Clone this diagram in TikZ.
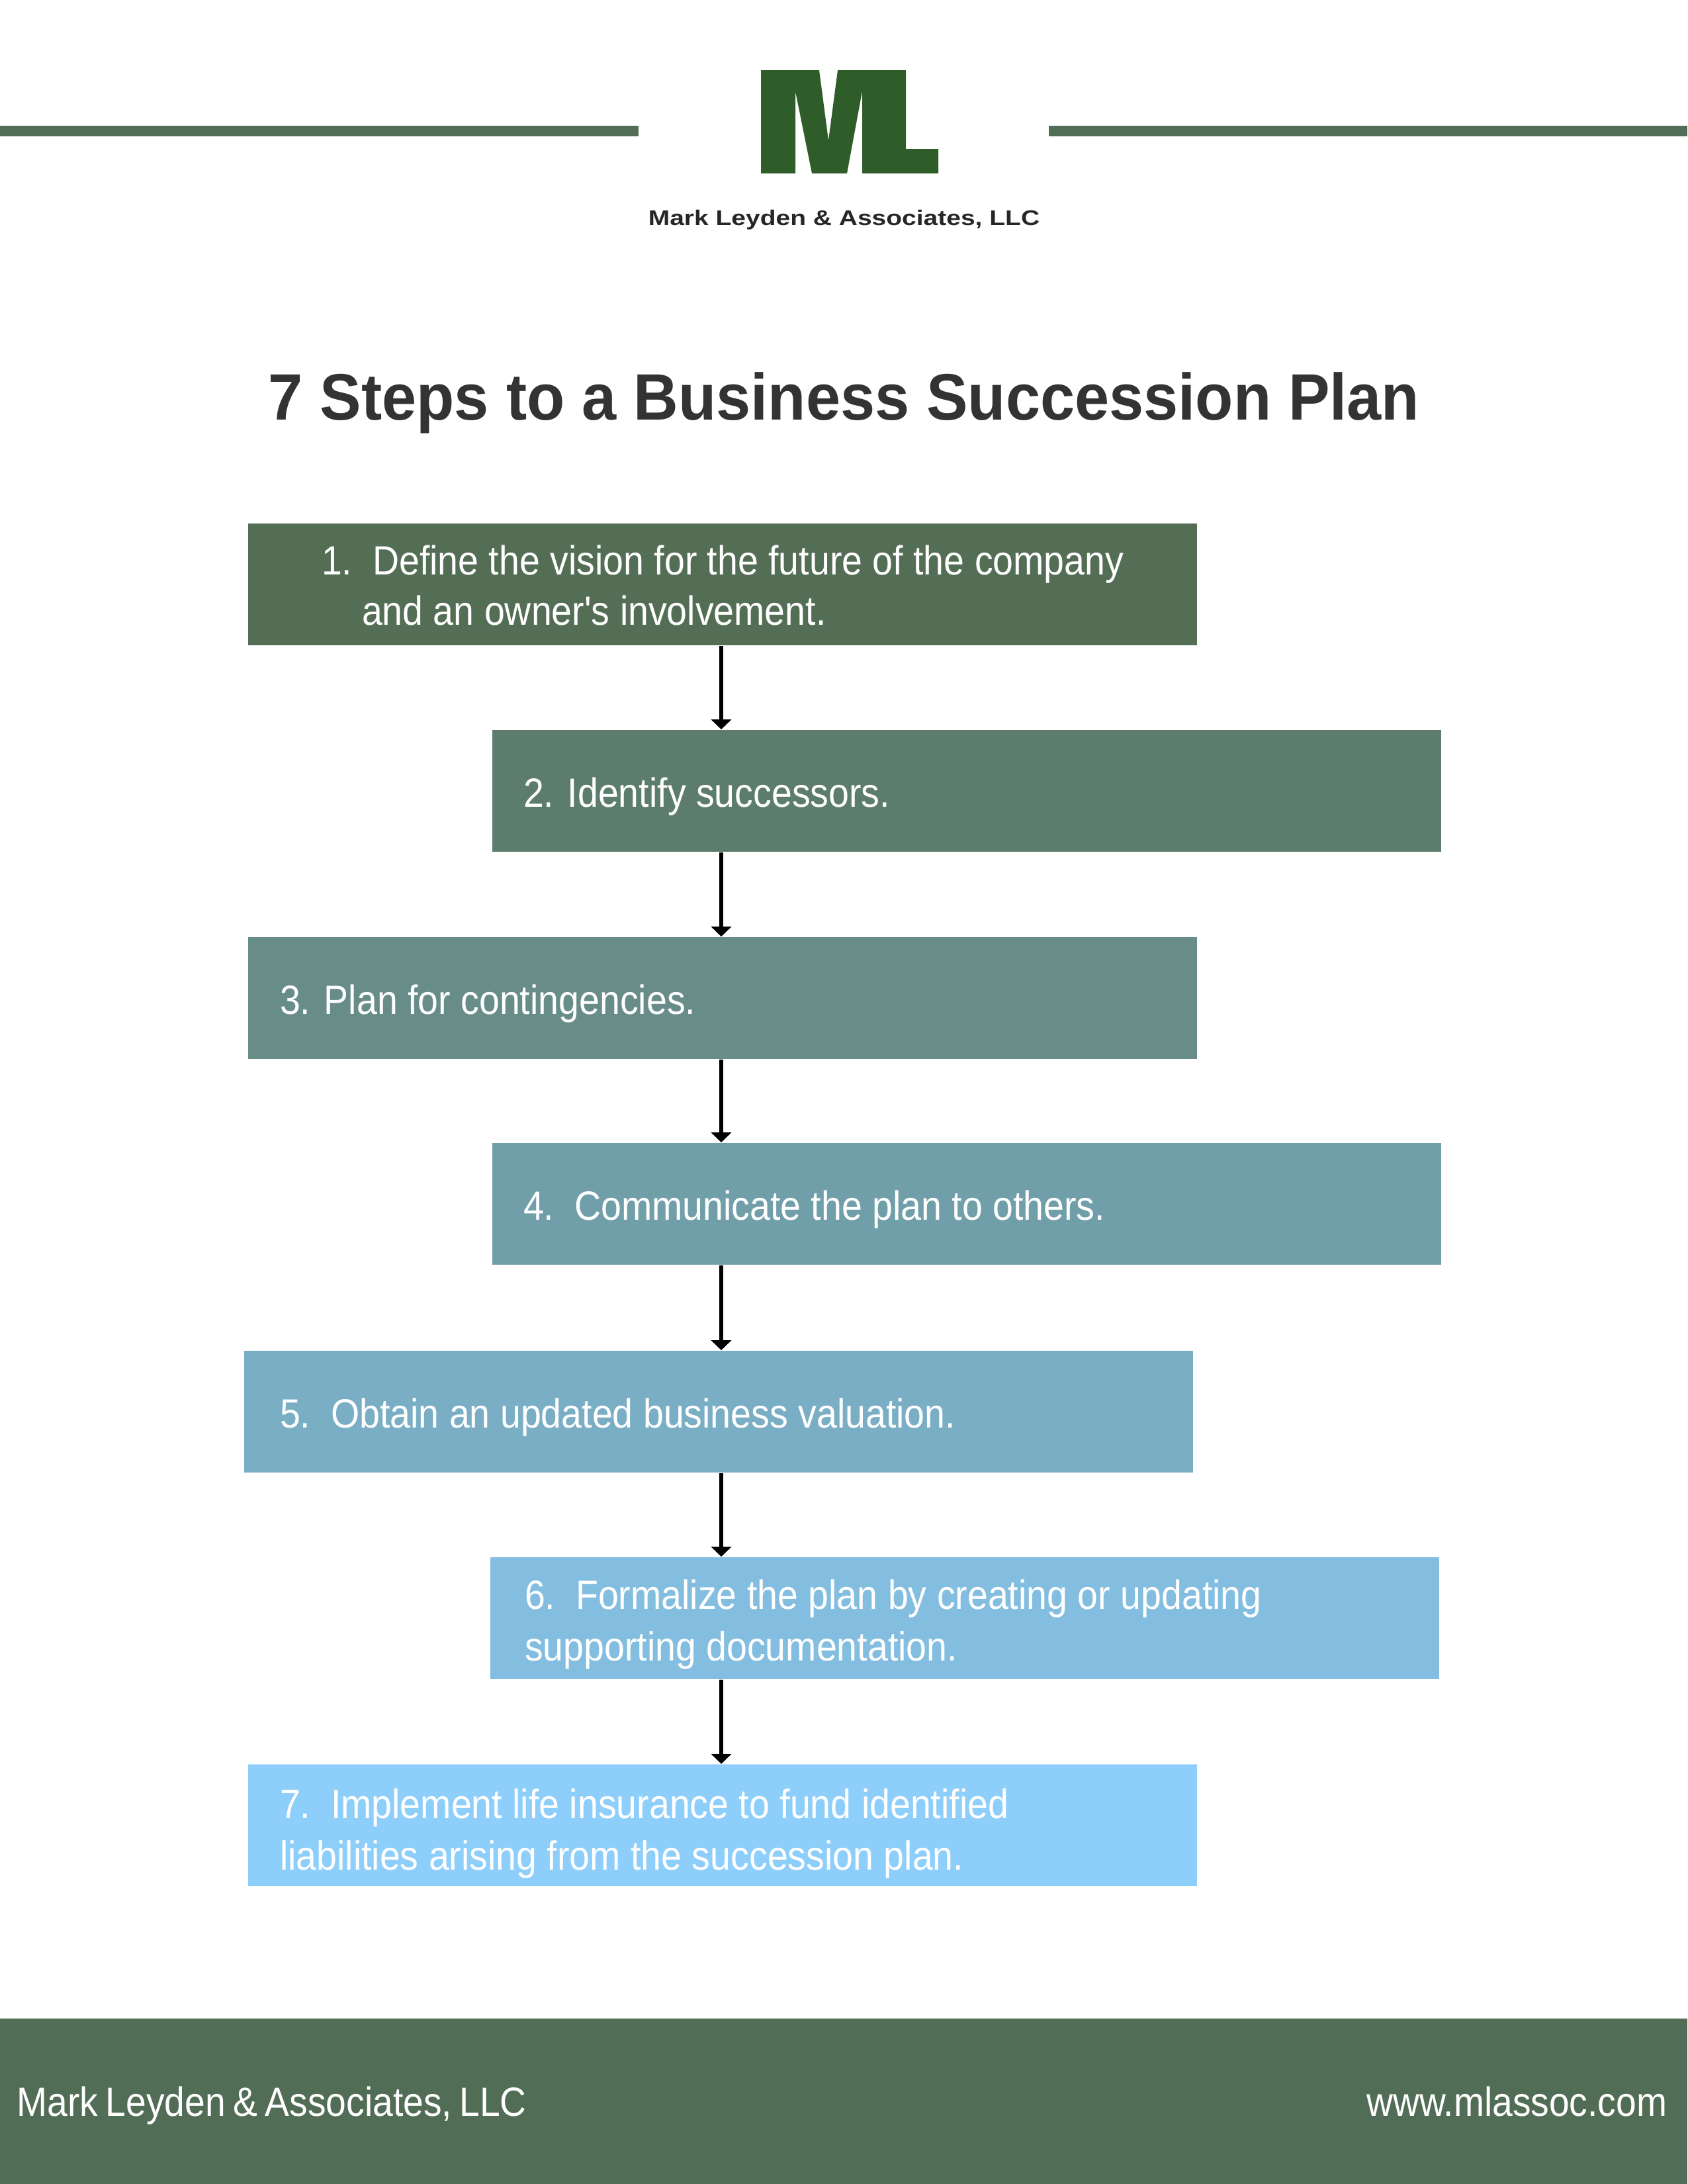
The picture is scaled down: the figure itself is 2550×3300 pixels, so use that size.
\documentclass[tikz,border=0pt]{standalone}
\usepackage{fontspec}
\usetikzlibrary{arrows.meta}
\newfontfamily\condfont[FakeStretch=0.90,WordSpace=1.0]{Liberation Sans}
\newfontfamily\footfont[FakeStretch=0.895,WordSpace=0.75]{Liberation Sans}
\newfontfamily\titlefont[FakeStretch=0.945,WordSpace=1.0]{Liberation Sans Bold}
\newfontfamily\logofont[FakeStretch=1.215]{Liberation Sans Bold}
\newlength\pxu \setlength\pxu{0.24pt}
\newcommand\pad[1]{\hspace*{#1\pxu}}
\definecolor{barc}{HTML}{526D55}
\definecolor{logoc}{HTML}{2F5D2A}
\definecolor{titlec}{HTML}{333333}
\definecolor{sa}{HTML}{546E55}
\definecolor{sb}{HTML}{5C7C6E}
\definecolor{sc}{HTML}{688D88}
\definecolor{sd}{HTML}{719FA9}
\definecolor{se}{HTML}{7AAEC5}
\definecolor{sf}{HTML}{83BEE0}
\definecolor{sg}{HTML}{8ECEFB}
\tikzset{
  stepbox/.style={rectangle,draw=none,inner xsep=0pt,inner ysep=0pt,text=white,align=left,
    minimum width=344.16pt,text width=344.16pt,minimum height=44.16pt,
    font=\condfont\fontsize{14.8pt}{18.24pt}\selectfont,
    execute at begin node={\spaceskip=0pt\xspaceskip=0pt\relax}},
  firstbase/.style={text height=#1*0.24pt,text depth=(184-#1)*0.24pt},
  steparrow/.style={-{Triangle[length=3.6pt,width=7.2pt]},line width=1.32pt,black},
  foot/.style={text=white,inner sep=0pt,anchor=base,font=\footfont\fontsize{14.8pt}{18pt}\selectfont}
}
\begin{document}
\begin{tikzpicture}[x=0.24pt,y=-0.24pt]
\useasboundingbox (0,0) rectangle (2550,3300);
% header bars
\fill[barc] (0,190) rectangle (965,206);
\fill[barc] (1585,190) rectangle (2550,206);
% logo
\fill[logoc] (1150,106) -- (1238,106) -- (1252,212) -- (1266,106) -- (1369,106) -- (1369,225)
  -- (1418,225) -- (1418,262) -- (1303,262) -- (1303,138) -- (1280,262) -- (1227,262)
  -- (1202,138) -- (1202,262) -- (1150,262) -- cycle;
\node[anchor=base west,inner sep=0pt,text=black!85,font=\logofont\fontsize{7.7pt}{9pt}\selectfont] (logotext) at (979,340) {Mark Leyden \& Associates, LLC};
% title
\node[anchor=base west,inner sep=0pt,text=titlec,font=\titlefont\fontsize{23.8pt}{30pt}\selectfont] (title) at (405,634) {7 Steps to a Business Succession Plan};
% steps
\node[stepbox,firstbase=77,fill=sa] (s1) at (1092,883) {\pad{111}1.\ \ Define the vision for the future of the company\\\pad{172}and an owner's involvement.};
\node[stepbox,firstbase=116,fill=sb] (s2) at (1461,1195) {\pad{47}2. Identify successors.};
\node[stepbox,firstbase=116,fill=sc] (s3) at (1092,1508) {\pad{48}3. Plan for contingencies.};
\node[stepbox,firstbase=116,fill=sd] (s4) at (1461,1819) {\pad{47}4.\ \ Communicate the plan to others.};
\node[stepbox,firstbase=116,fill=se] (s5) at (1086,2133) {\pad{54}5.\ \ Obtain an updated business valuation.};
\node[stepbox,firstbase=78,fill=sf] (s6) at (1458,2445) {\pad{52}6.\ \ Formalize the plan by creating or updating\\[0.48pt]\pad{52}supporting documentation.};
\node[stepbox,firstbase=81,fill=sg] (s7) at (1092,2758) {\pad{48}7.\ \ Implement life insurance to fund identified\\[0.48pt]\pad{48}liabilities arising from the succession plan.};
% connectors
\coordinate (spine) at (1090,0);
\draw[steparrow] (s1.south -| spine) -- (s2.north -| spine);
\draw[steparrow] (s2.south -| spine) -- (s3.north -| spine);
\draw[steparrow] (s3.south -| spine) -- (s4.north -| spine);
\draw[steparrow] (s4.south -| spine) -- (s5.north -| spine);
\draw[steparrow] (s5.south -| spine) -- (s6.north -| spine);
\draw[steparrow] (s6.south -| spine) -- (s7.north -| spine);
% footer
\fill[barc] (0,3050) rectangle (2550,3300);
\node[foot,anchor=base west] (footl) at (25,3197) {Mark Leyden \& Associates, LLC};
\node[foot,anchor=base east] (footr) at (2520,3197) {www.mlassoc.com};
\end{tikzpicture}
\end{document}
